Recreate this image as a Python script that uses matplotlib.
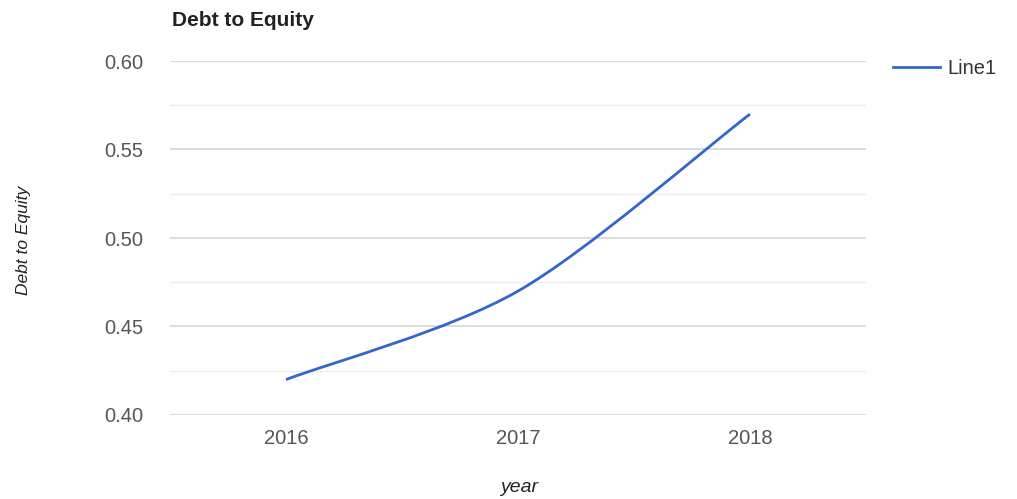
import matplotlib
matplotlib.use("Agg")
import matplotlib.pyplot as plt
from matplotlib.path import Path
from matplotlib.patches import PathPatch
from matplotlib.lines import Line2D
import numpy as np

years = [2016, 2017, 2018]
debt_to_equity = [0.42, 0.47, 0.57]
y_ticks = [0.40, 0.45, 0.50, 0.55, 0.60]
y_tick_labels = ["0.40", "0.45", "0.50", "0.55", "0.60"]
series_name = "Line1"

LINE_COLOR = "#3366cc"
FONT = "Liberation Sans"

plt.rcParams["font.family"] = [FONT, "DejaVu Sans"]

W, H = 1017, 499
fig = plt.figure(figsize=(W / 100, H / 100), dpi=100)
fig.patch.set_facecolor("white")

left, right, top, bottom = 170, 866, 61, 415
ax = fig.add_axes([left / W, 1 - bottom / H, (right - left) / W, (bottom - top) / H])
ax.set_xlim(2015.5, 2018.5)
ax.set_ylim(0.40, 0.60)

# gridlines: major every 0.05, lighter minor lines halfway between
for v in np.arange(0.425, 0.60, 0.05):
    ax.axhline(v, color="#eeeeee", lw=1.0, zorder=0)
for v in y_ticks:
    ax.axhline(v, color="#d6d6d6", lw=1.2, zorder=0)

for s in ax.spines.values():
    s.set_visible(False)

ax.set_yticks(y_ticks)
ax.set_yticklabels(y_tick_labels)
ax.set_xticks(years)
ax.set_xticklabels([str(y) for y in years])
ax.tick_params(axis="both", length=0, labelsize=14.5, labelcolor="#555555")
ax.tick_params(axis="y", pad=19)
ax.tick_params(axis="x", pad=10)

# smooth curve through the points (cubic Bezier with Catmull-Rom tangents)
P = np.column_stack([years, debt_to_equity]).astype(float)
n = len(P)
tang = np.zeros_like(P)
for i in range(n):
    a = P[max(i - 1, 0)]
    b = P[min(i + 1, n - 1)]
    tang[i] = (b - a) / (2 if 0 < i < n - 1 else 1)
verts = [tuple(P[0])]
codes = [Path.MOVETO]
for i in range(n - 1):
    c1 = P[i] + tang[i] / 3.0 * (0.9 if i > 0 else 0.6)
    c2 = P[i + 1] - tang[i + 1] / 3.0 * (0.9 if i + 1 < n - 1 else 0.6)
    verts += [tuple(c1), tuple(c2), tuple(P[i + 1])]
    codes += [Path.CURVE4] * 3
ax.add_patch(PathPatch(Path(verts, codes), fill=False, edgecolor=LINE_COLOR,
                       lw=2.0, capstyle="butt", joinstyle="round", zorder=3))

# titles
fig.text(172 / W, 1 - 20 / H, "Debt to Equity", fontsize=15, fontweight="bold",
         color="#222222", ha="left", va="center")
fig.text(24 / W, 1 - 240 / H, "Debt to Equity", fontsize=12.5, style="italic",
         color="#222222", rotation=90, ha="center", va="center")
fig.text(519 / W, 1 - 487 / H, "year", fontsize=14, style="italic",
         color="#222222", ha="center", va="center")

# legend
handle = Line2D([], [], color=LINE_COLOR, lw=2.0)
fig.legend([handle], [series_name], loc="center left",
           bbox_to_anchor=(893 / W, 1 - 69 / H), frameon=False,
           fontsize=14.5, handlelength=2.35, handletextpad=0.35,
           labelcolor="#333333", borderaxespad=0, borderpad=0)

fig.savefig("out.png", dpi=100, facecolor="white")
